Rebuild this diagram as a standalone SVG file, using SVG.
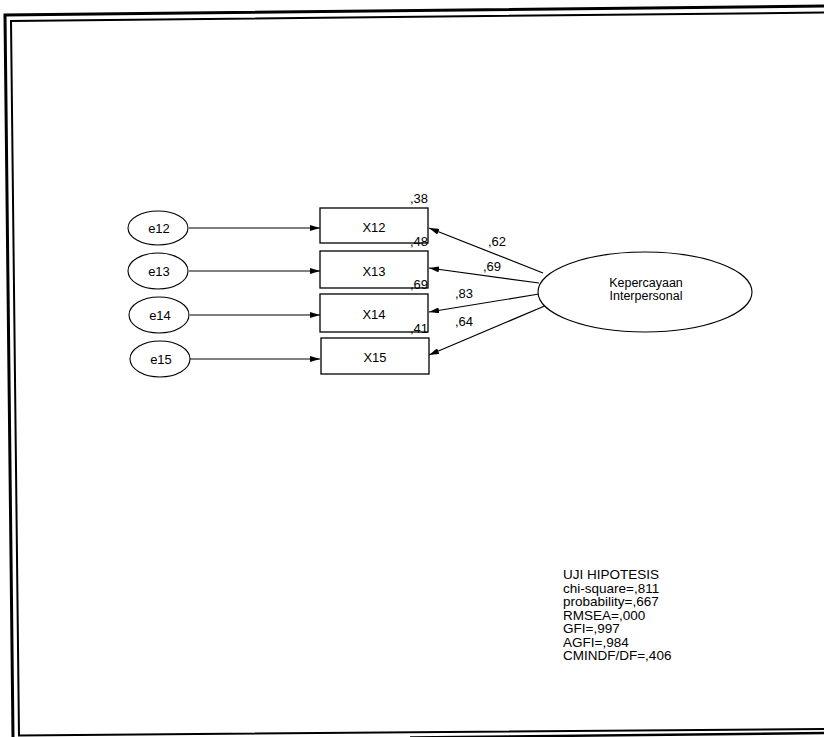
<svg xmlns="http://www.w3.org/2000/svg" width="824" height="737" viewBox="0 0 824 737">
<defs>
<marker id="ah" viewBox="0 0 10 6" refX="10" refY="3" markerWidth="10" markerHeight="6" markerUnits="userSpaceOnUse" orient="auto">
<path d="M0,0 L10,3 L0,6 Z" fill="#000"/>
</marker>
<style>
text{font-family:"Liberation Sans",Arial,sans-serif;fill:#000}
.lbl{font-size:13px}
.lat{font-size:12.5px}
.box{fill:#fff;stroke:#000;stroke-width:1.3}
.ell{fill:#fff;stroke:#000;stroke-width:1.1}
.con{stroke:#000;stroke-width:1.2;fill:none;marker-end:url(#ah)}
.frame{stroke:#000;fill:none}
.fit{font-size:13.5px}
</style>
</defs>
<rect width="824" height="737" fill="#fff"/>
<g id="frame">
<path class="frame" stroke-width="3" d="M824,6 L5,15 L13,737"/>
<path class="frame" stroke-width="2" d="M824,12.5 L11,21 L19,735.5 L824,729"/>
<path class="frame" stroke-width="2.5" d="M410,737.5 L824,733"/>
</g>
<g id="connectors">
<line class="con" x1="189" y1="228" x2="320" y2="228"/>
<line class="con" x1="189" y1="271" x2="320" y2="271"/>
<line class="con" x1="190" y1="315" x2="320" y2="315"/>
<line class="con" x1="190" y1="359" x2="320" y2="359"/>
<line class="con" x1="543" y1="273" x2="429" y2="228"/>
<line class="con" x1="539" y1="283" x2="429" y2="268"/>
<line class="con" x1="539" y1="294" x2="429" y2="312"/>
<line class="con" x1="547" y1="305" x2="429" y2="355"/>
<text class="lbl" x="488" y="246">,62</text>
<text class="lbl" x="483" y="271">,69</text>
<text class="lbl" x="455" y="298">,83</text>
<text class="lbl" x="455" y="326">,64</text>
</g>
<g id="e12"><ellipse class="ell" cx="158" cy="228" rx="30" ry="17"/><text class="lbl" x="159" y="233" text-anchor="middle">e12</text></g>
<g id="e13"><ellipse class="ell" cx="158" cy="271" rx="30" ry="18"/><text class="lbl" x="159" y="276" text-anchor="middle">e13</text></g>
<g id="e14"><ellipse class="ell" cx="159" cy="315" rx="30" ry="18"/><text class="lbl" x="160" y="320" text-anchor="middle">e14</text></g>
<g id="e15"><ellipse class="ell" cx="160" cy="359" rx="30" ry="18"/><text class="lbl" x="161" y="364" text-anchor="middle">e15</text></g>
<g id="X12"><rect class="box" x="320" y="208" width="108" height="35"/><text class="lbl" x="374" y="232" text-anchor="middle">X12</text><text class="lbl" x="428" y="203" text-anchor="end">,38</text></g>
<g id="X13"><rect class="box" x="320" y="251" width="108" height="37"/><text class="lbl" x="374" y="276" text-anchor="middle">X13</text><text class="lbl" x="428" y="246" text-anchor="end">,48</text></g>
<g id="X14"><rect class="box" x="320" y="294" width="108" height="38"/><text class="lbl" x="374" y="319" text-anchor="middle">X14</text><text class="lbl" x="428" y="289" text-anchor="end">,69</text></g>
<g id="X15"><rect class="box" x="321" y="338" width="108" height="36"/><text class="lbl" x="375" y="362" text-anchor="middle">X15</text><text class="lbl" x="428" y="333" text-anchor="end">,41</text></g>
<g id="KepercayaanInterpersonal"><ellipse class="ell" cx="645" cy="292" rx="107" ry="40"/>
<text class="lat" x="646" y="287" text-anchor="middle">Kepercayaan</text>
<text class="lat" x="646" y="300" text-anchor="middle">Interpersonal</text></g>
<g id="fit">
<text class="fit" x="563" y="579">UJI HIPOTESIS</text>
<text class="fit" x="563" y="592.5">chi-square=,811</text>
<text class="fit" x="563" y="606">probability=,667</text>
<text class="fit" x="563" y="619.5">RMSEA=,000</text>
<text class="fit" x="563" y="633">GFI=,997</text>
<text class="fit" x="563" y="646.5">AGFI=,984</text>
<text class="fit" x="563" y="660">CMINDF/DF=,406</text>
</g>
</svg>
